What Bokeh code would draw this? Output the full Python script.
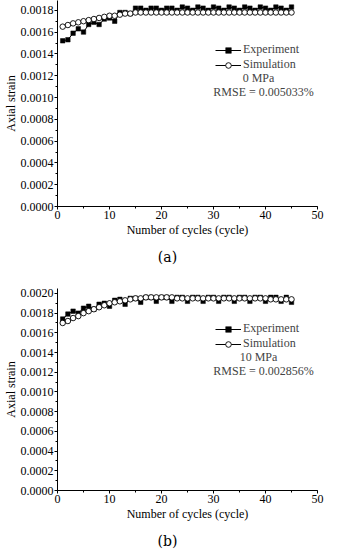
from bokeh.plotting import figure
from bokeh.layouts import column
from bokeh.models import (Legend, LegendItem, Label, Div, PrintfTickFormatter,
                          SingleIntervalTicker, Range1d)
from bokeh.embed import file_html
from bokeh.resources import INLINE

cycles = list(range(1, 46))

exp_a = [0.00152, 0.00153, 0.00159, 0.00163, 0.00160, 0.00167, 0.00169, 0.00167, 0.00172, 0.00173,
         0.00170, 0.00178, 0.00178, 0.00177, 0.00182, 0.00182, 0.00180, 0.00182, 0.00182, 0.00180,
         0.00182, 0.00182, 0.00180, 0.00183, 0.00182, 0.00180, 0.00183, 0.00182, 0.00180, 0.00183,
         0.00182, 0.00180, 0.00183, 0.00182, 0.00180, 0.00183, 0.00182, 0.00180, 0.00183, 0.00182,
         0.00180, 0.00183, 0.00182, 0.00180, 0.00183]
sim_a = [0.00165, 0.001665, 0.00168, 0.00169, 0.00170, 0.00171, 0.00172, 0.00173, 0.00174, 0.00175,
         0.00175, 0.00176, 0.00177, 0.00177] + [0.00178] * 31

exp_b = [0.00174, 0.00179, 0.00182, 0.00180, 0.00185, 0.00187, 0.00184, 0.00189, 0.00190, 0.00187,
         0.00193, 0.00194, 0.00189, 0.00195, 0.00195, 0.00191, 0.00196, 0.00196, 0.00192, 0.00196,
         0.00196, 0.00192, 0.00196, 0.00196, 0.00192, 0.00196, 0.00196, 0.00192, 0.00196, 0.00196,
         0.00192, 0.00196, 0.00196, 0.00192, 0.00196, 0.00196, 0.00192, 0.00196, 0.00196, 0.00192,
         0.00196, 0.00196, 0.00192, 0.00196, 0.00191]
sim_b = [0.00170, 0.00172, 0.00175, 0.00177, 0.00180, 0.00182, 0.00184, 0.00186, 0.00188, 0.00190,
         0.00191, 0.00192, 0.00193, 0.00194, 0.00195, 0.00195, 0.00196, 0.00196, 0.00196, 0.00196,
         0.00196, 0.00196] + [0.00195] * 18 + [0.00194] * 5

FONT = "Liberation Serif"


def make_panel(exp, sim, ymax, height, top, bottom, pressure, rmse, leg_y, lab_y0):
    p = figure(width=325, height=height, output_backend="svg", toolbar_location=None,
               x_range=Range1d(0, 50), y_range=Range1d(0, ymax),
               min_border_left=47, min_border_right=8, min_border_top=top,
               min_border_bottom=bottom)
    p.outline_line_color = None
    p.grid.visible = False
    p.background_fill_color = "white"
    p.border_fill_color = "white"

    le = p.line(cycles, exp, line_color="black", line_width=1)
    se = p.scatter(cycles, exp, marker="square", size=4.5, fill_color="black", line_color="black",
                   line_width=0.5)
    ls = p.line(cycles, sim, line_color="black", line_width=1)
    ss = p.scatter(cycles, sim, marker="circle", size=5.5, fill_color="white", line_color="black",
                   line_width=0.9)

    p.xaxis.ticker = SingleIntervalTicker(interval=10, num_minor_ticks=2)
    p.yaxis.ticker = SingleIntervalTicker(interval=0.0002, num_minor_ticks=2)
    p.yaxis.formatter = PrintfTickFormatter(format="%.4f")
    for ax in (p.xaxis[0], p.yaxis[0]):
        ax.major_label_text_font = FONT
        ax.major_label_text_font_size = "12px"
        ax.major_label_text_color = "black"
        ax.axis_label_text_font = FONT
        ax.axis_label_text_font_size = "12px"
        ax.axis_label_text_font_style = "normal"
        ax.axis_label_text_color = "black"
        ax.axis_line_color = "black"
        ax.major_tick_line_color = "black"
        ax.minor_tick_line_color = "black"
        ax.major_tick_out = 3
        ax.major_tick_in = 0
        ax.minor_tick_out = 2
        ax.minor_tick_in = 0
    p.xaxis.major_label_standoff = 1
    p.yaxis.major_label_standoff = 1
    p.xaxis.axis_label_standoff = 1
    p.yaxis.axis_label_standoff = 0
    p.xaxis.axis_label = "Number of cycles (cycle)"
    p.yaxis.axis_label = "Axial strain"

    legend = Legend(items=[LegendItem(label="Experiment", renderers=[le, se]),
                           LegendItem(label="Simulation", renderers=[ls, ss])],
                    location=(158, leg_y))
    legend.label_text_font = FONT
    legend.label_text_font_size = "12px"
    legend.glyph_width = 26
    legend.glyph_height = 14
    legend.label_height = 14
    legend.spacing = 0
    legend.padding = 0
    legend.margin = 0
    legend.label_standoff = 2
    legend.border_line_alpha = 0
    legend.background_fill_alpha = 0
    p.add_layout(legend)

    p.add_layout(Label(x=201, y=lab_y0, x_units="screen", y_units="screen", text=pressure,
                       text_font=FONT, text_font_size="12px", text_align="center",
                       text_baseline="middle"))
    p.add_layout(Label(x=206, y=lab_y0 - 14, x_units="screen", y_units="screen", text=rmse,
                       text_font=FONT, text_font_size="12px", text_align="center",
                       text_baseline="middle"))
    return p


def caption(text):
    return Div(text=text, width=325, height=16,
               styles={"text-align": "center", "font-family": "DejaVu Serif",
                       "font-size": "14px", "line-height": "16px", "color": "black",
                       "width": "325px"})


pa = make_panel(exp_a, sim_a, 0.00189, 244, 0, 38, "0 MPa", "RMSE = 0.005033%", 134, 129)
pb = make_panel(exp_b, sim_b, 0.00205, 258, 18, 38, "10 MPa", "RMSE = 0.002856%", 139, 134)

layout = column(pa, caption("(a)"), pb, caption("(b)"), spacing=0)
open("out.html", "w").write(file_html(layout, INLINE))
